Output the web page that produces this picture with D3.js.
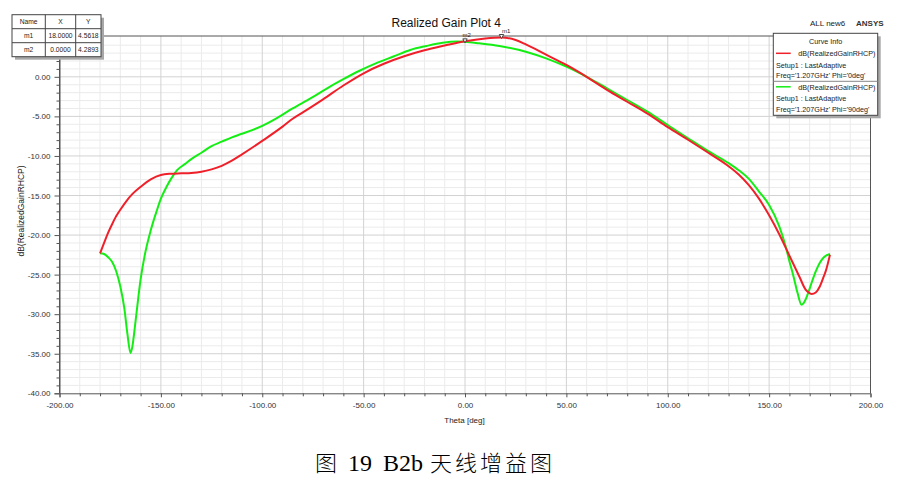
<!DOCTYPE html>
<html>
<head>
<meta charset="utf-8">
<script src="https://cdn.jsdelivr.net/npm/d3@7"></script>
<style>
  html, body { margin: 0; padding: 0; background: #fff; }
  svg { display: block; }
  text { font-family: "Liberation Sans", Arial, sans-serif; }
</style>
</head>
<body>
<svg id="chart" width="913" height="482"></svg>
<script>
// ---------- data ----------
const xTicks = [-200, -150, -100, -50, 0, 50, 100, 150, 200];
const yTicks = [0, -5, -10, -15, -20, -25, -30, -35, -40];

const thetaRed = [-180,-178,-176,-174,-172,-170,-167,-164,-160,-155,-150,-145,-140,-135,-130,-125,-120,-115,-110,-100,-90,-85,-80,-70,-60,-50,-40,-30,-20,-10,0,10,18,25,30,40,50,60,70,80,90,100,110,120,130,135,140,145,150,155,160,165,168,170,171,173,175,177,178,180];
const gainRed  = [-22.3,-21.0,-19.7,-18.6,-17.6,-16.8,-15.7,-14.8,-13.9,-12.95,-12.4,-12.25,-12.2,-12.15,-12.0,-11.7,-11.25,-10.6,-9.8,-8.1,-6.3,-5.3,-4.5,-2.85,-1.1,0.45,1.65,2.6,3.35,3.95,4.5,4.85,4.97,4.65,4.1,2.8,1.5,0.0,-1.65,-3.15,-4.65,-6.35,-7.95,-9.6,-11.3,-12.35,-13.7,-15.4,-17.5,-19.9,-22.6,-25.3,-26.9,-27.35,-27.45,-27.25,-26.5,-25.2,-24.5,-22.5];

const thetaGreen = [-180,-178,-176,-174,-172,-170,-168,-166.5,-165,-164,-163,-162,-160,-158,-155,-152,-150,-147,-145,-142,-138,-135,-130,-125,-120,-115,-110,-100,-93,-85,-76,-68,-60,-52,-44,-35,-27,-19,-11,-4,0,7,17,30,40,50,60,70,80,90,100,110,120,130,135,140,145,150,155,158,160,162,164,166,167,169,171,173,175,177,180];
const gainGreen  = [-22.3,-22.4,-22.8,-23.4,-24.6,-26.5,-29.3,-32.5,-34.9,-34.0,-32.0,-29.8,-25.6,-22.6,-19.4,-16.9,-15.4,-13.8,-12.9,-11.8,-11.0,-10.4,-9.6,-8.75,-8.2,-7.65,-7.2,-6.2,-5.25,-4.0,-2.7,-1.45,-0.3,0.77,1.7,2.6,3.4,3.9,4.3,4.45,4.42,4.23,3.89,3.17,2.33,1.28,0.0,-1.45,-2.93,-4.41,-6.1,-7.77,-9.4,-10.9,-11.8,-12.9,-14.5,-16.2,-18.9,-21.3,-23.3,-25.2,-27.3,-28.8,-28.6,-27.5,-26.0,-24.6,-23.5,-22.8,-22.4];

const markerNames = ["m1", "m2"];
const markerX = [18.0, 0.0];
const markerY = [4.5618, 4.2893];
const markerCurve = ["red", "green"];

const legendLines = [
  ["dB(RealizedGainRHCP)", "Setup1 : LastAdaptive", "Freq='1.207GHz' Phi='0deg'"],
  ["dB(RealizedGainRHCP)", "Setup1 : LastAdaptive", "Freq='1.207GHz' Phi='90deg'"]
];
const seriesColors = ["#f0202a", "#14ee14"];

// ---------- layout ----------
const svg = d3.select("#chart");
const L = 59.5, R = 870.5, T = 36, B = 393.3;
const x = d3.scaleLinear().domain([-200, 200]).range([L, R]);
const y = d3.scaleLinear().domain([-40, 5.16]).range([B, T]);

// grid
const g = svg.append("g");
const minorX = d3.range(-190, 200, 10).filter(v => v % 50 !== 0);
const minorY = d3.range(-39, 6, 1).filter(v => v % 5 !== 0 && v <= 5);
g.selectAll(".mx").data(minorX).join("line")
  .attr("x1", d => x(d)).attr("x2", d => x(d)).attr("y1", T).attr("y2", B)
  .attr("stroke", "#ebebeb").attr("stroke-width", 1);
g.selectAll(".my").data(minorY).join("line")
  .attr("x1", L).attr("x2", R).attr("y1", d => y(d)).attr("y2", d => y(d))
  .attr("stroke", "#ebebeb").attr("stroke-width", 1);
g.selectAll(".Mx").data(xTicks.filter(v => v > -200 && v < 200)).join("line")
  .attr("x1", d => x(d)).attr("x2", d => x(d)).attr("y1", T).attr("y2", B)
  .attr("stroke", "#d2d2d2").attr("stroke-width", 1);
g.selectAll(".My").data(yTicks.filter(v => v > -40)).join("line")
  .attr("x1", L).attr("x2", R).attr("y1", d => y(d)).attr("y2", d => y(d))
  .attr("stroke", "#d2d2d2").attr("stroke-width", 1);

// axes
const xAxis = d3.axisBottom(x).tickValues(xTicks).tickFormat(d => d.toFixed(2)).tickSize(4).tickPadding(5);
const gx = svg.append("g").attr("transform", `translate(0,${B})`).call(xAxis);
const yAxis = d3.axisLeft(y).tickValues(yTicks).tickFormat(d => d.toFixed(2)).tickSize(5).tickPadding(4);
const gy = svg.append("g").attr("transform", `translate(${L},0)`).call(yAxis);
[gx, gy].forEach(a => {
  a.select(".domain").attr("stroke", "#555");
  a.selectAll(".tick line").attr("stroke", "#555");
  a.selectAll("text").attr("fill", "#333").style("font-size", "8px").style("font-family", "Liberation Sans, Arial, sans-serif");
});
// minor ticks
const xMinorAxis = d3.axisBottom(x).tickValues(d3.range(-190, 200, 10).filter(v => v % 50 !== 0)).tickFormat("").tickSize(3);
const gxm = svg.append("g").attr("transform", `translate(0,${B})`).call(xMinorAxis);
const yMinorAxis = d3.axisLeft(y).tickValues(d3.range(-39, 6, 1).filter(v => v % 5 !== 0)).tickFormat("").tickSize(3);
const gym = svg.append("g").attr("transform", `translate(${L},0)`).call(yMinorAxis);
[gxm, gym].forEach(a => { a.select(".domain").remove(); a.selectAll(".tick line").attr("stroke", "#555"); });

// frame top/right
svg.append("line").attr("x1", L).attr("x2", R).attr("y1", T).attr("y2", T).attr("stroke", "#555");
svg.append("line").attr("x1", R).attr("x2", R).attr("y1", T).attr("y2", B).attr("stroke", "#555");
svg.append("line").attr("x1", L).attr("x2", L).attr("y1", T).attr("y2", B).attr("stroke", "#555");

// curves
const line = d3.line().x(d => x(d[0])).y(d => y(d[1])).curve(d3.curveMonotoneX);
const redData = d3.zip(thetaRed, gainRed);
const greenData = d3.zip(thetaGreen, gainGreen);
svg.append("path").datum(greenData).attr("d", line).attr("fill", "none")
  .attr("stroke", seriesColors[1]).attr("stroke-width", 2);
svg.append("path").datum(redData).attr("d", line).attr("fill", "none")
  .attr("stroke", seriesColors[0]).attr("stroke-width", 2);

// title
const title = svg.append("text").attr("x", 391.5).attr("y", 26.5)
  .style("font-size", "12px").attr("fill", "#111").text("Realized Gain Plot 4");
const titleEnd = 391.5 + title.node().getComputedTextLength();

// markers
const curveLookup = { red: redData, green: greenData };
markerNames.forEach((name, i) => {
  const data = curveLookup[markerCurve[i]];
  const idx = d3.bisector(d => d[0]).left(data, markerX[i]);
  const py = y(data[idx][1]) + 1;
  const px = x(markerX[i]);
  svg.append("path")
    .attr("d", `M${px - 2.2},${py - 4}L${px + 2.2},${py - 4}L${px},${py}Z`)
    .attr("fill", "#fff").attr("stroke", "#333").attr("stroke-width", 0.9);
  let lx = px - 2.5;
  if (lx < titleEnd + 1 && lx > titleEnd - 20) lx = titleEnd + 1;
  svg.append("text").attr("x", lx).attr("y", py - 6)
    .style("font-size", "6px").attr("fill", "#222").text(name);
});

svg.append("text").attr("x", 810).attr("y", 25.5).style("font-size", "8px").attr("fill", "#222").text("ALL new6");
svg.append("text").attr("x", 856).attr("y", 25.5).style("font-size", "8px").style("font-weight", "bold").attr("fill", "#333").text("ANSYS");
svg.append("text").attr("x", 464.5).attr("y", 423).attr("text-anchor", "middle")
  .style("font-size", "8px").attr("fill", "#222").text("Theta [deg]");
svg.append("text").attr("transform", "translate(24,211) rotate(-90)").attr("text-anchor", "middle")
  .style("font-size", "8.5px").attr("fill", "#222").text("dB(RealizedGainRHCP)");

// marker table
const tb = svg.append("g");
const tX = 12, tY = 14.7, colW = [33.3, 30.4, 25.3], rowH = 14;
const tW = d3.sum(colW), tH = rowH * 3;
tb.append("rect").attr("x", tX + 3).attr("y", tY + 3).attr("width", tW).attr("height", tH).attr("fill", "#a8a8a8");
tb.append("rect").attr("x", tX).attr("y", tY).attr("width", tW).attr("height", tH).attr("fill", "#fff").attr("stroke", "#444");
const colX = [tX, tX + colW[0], tX + colW[0] + colW[1]];
[1, 2].forEach(c => tb.append("line").attr("x1", colX[c]).attr("x2", colX[c]).attr("y1", tY).attr("y2", tY + tH).attr("stroke", "#444"));
[1, 2].forEach(r => tb.append("line").attr("x1", tX).attr("x2", tX + tW).attr("y1", tY + r * rowH).attr("y2", tY + r * rowH).attr("stroke", "#444"));
const tableRows = [["Name", "X", "Y"]].concat(markerNames.map((n, i) => [n, markerX[i].toFixed(4), markerY[i].toFixed(4)]));
tableRows.forEach((row, r) => row.forEach((cell, c) => {
  tb.append("text").attr("x", colX[c] + colW[c] / 2).attr("y", tY + r * rowH + rowH / 2 + 2.4)
    .attr("text-anchor", "middle").style("font-size", "6.7px").attr("fill", "#222").text(cell);
}));

// legend
const lg = svg.append("g");
const lX = 773.3, lY = 33.3, lW = 104.4, lH = 82;
lg.append("rect").attr("x", lX + 3).attr("y", lY + 3).attr("width", lW).attr("height", lH).attr("fill", "#a8a8a8");
lg.append("rect").attr("x", lX).attr("y", lY).attr("width", lW).attr("height", lH).attr("fill", "#fff").attr("stroke", "#444");
lg.append("text").attr("x", 825.7).attr("y", 44.2).attr("text-anchor", "middle").style("font-size", "7.2px").attr("fill", "#222").text("Curve Info");
lg.append("line").attr("x1", lX).attr("x2", lX + lW).attr("y1", 81.3).attr("y2", 81.3).attr("stroke", "#888");
legendLines.forEach((lines, i) => {
  const base = 56.3 + i * 33.5;
  lg.append("line").attr("x1", 776).attr("x2", 790.7).attr("y1", base - 3).attr("y2", base - 3)
    .attr("stroke", seriesColors[i]).attr("stroke-width", 1.5);
  lg.append("text").attr("x", 798.3).attr("y", base).style("font-size", "7.2px").attr("fill", "#222").text(lines[0]);
  lg.append("text").attr("x", 776).attr("y", base + 11.5).style("font-size", "7.2px").attr("fill", "#222").text(lines[1]);
  lg.append("text").attr("x", 776).attr("y", base + 22).style("font-size", "7.2px").attr("fill", "#222").text(lines[2]);
});

// caption
const cap = svg.append("text").attr("y", 471).style("font-size", "24px").attr("fill", "#000")
  .style("font-family", "'Liberation Serif', 'Noto Sans CJK SC', serif");
cap.append("tspan").attr("x", 315).style("font-family", "'Noto Sans CJK SC', sans-serif").style("font-size", "22px").style("font-weight", "300").text("图");
cap.append("tspan").attr("x", 348).text("19");
cap.append("tspan").attr("x", 383).text("B2b");
cap.append("tspan").attr("x", 430).style("font-family", "'Noto Sans CJK SC', sans-serif").style("font-size", "22px").style("font-weight", "300")
  .attr("letter-spacing", "3").text("天线增益图");
</script>
</body>
</html>
